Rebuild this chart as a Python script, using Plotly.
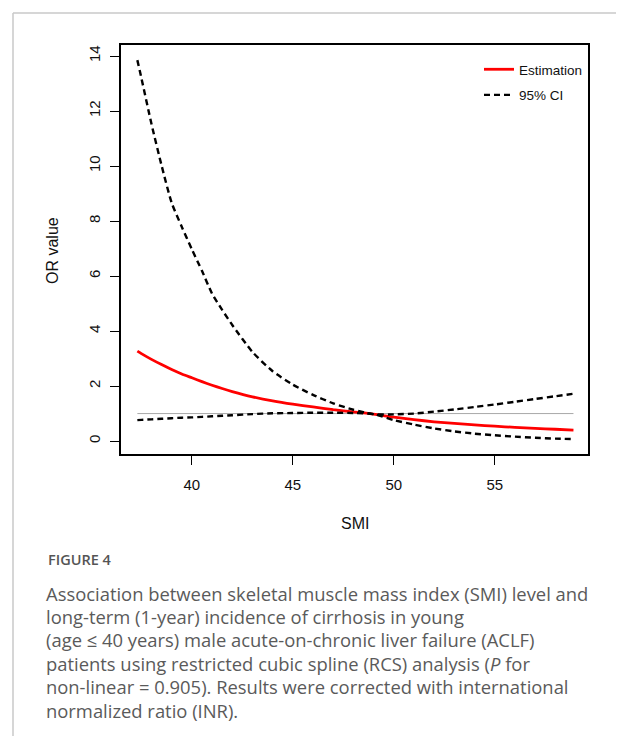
import plotly.graph_objects as go

# ---- data ----
smi = [37.3, 37.5, 38, 38.5, 39, 39.5, 40, 40.5, 41, 41.5, 42, 43, 44, 45, 46, 47, 48, 49,
       50, 51, 52, 53, 54, 55, 56, 57, 58, 58.9]
estimate = [3.27, 3.18, 2.97, 2.78, 2.60, 2.44, 2.30, 2.16, 2.03, 1.91, 1.80, 1.61, 1.46, 1.34,
            1.24, 1.14, 1.06, 0.98, 0.87, 0.78, 0.70, 0.64, 0.59, 0.54, 0.50, 0.46, 0.43, 0.40]
ci_upper = [13.85, 13.2, 11.53, 10.02, 8.66, 7.79, 6.97, 6.19, 5.36, 4.77, 4.22, 3.24, 2.54, 2.05,
            1.68, 1.37, 1.14, 0.98, 0.97, 1.0, 1.07, 1.15, 1.24, 1.33, 1.43, 1.53, 1.63, 1.72]
ci_lower = [0.76, 0.77, 0.79, 0.81, 0.83, 0.85, 0.86, 0.88, 0.90, 0.92, 0.94, 0.98, 1.01, 1.02,
            1.03, 1.03, 1.02, 0.98, 0.76, 0.60, 0.46, 0.35, 0.27, 0.21, 0.16, 0.12, 0.09, 0.07]
ref_value = 1
x_ticks = [40, 45, 50, 55]
y_ticks = [0, 2, 4, 6, 8, 10, 12, 14]

caption_title = "FIGURE 4"
caption_lines = [
    "Association between skeletal muscle mass index (SMI) level and",
    "long-term (1-year) incidence of cirrhosis in young",
    "(age \u2264 40 years) male acute-on-chronic liver failure (ACLF)",
    "patients using restricted cubic spline (RCS) analysis (<i>P</i> for",
    "non-linear = 0.905). Results were corrected with international",
    "normalized ratio (INR).",
]

# ---- layout geometry (screen pixels; the page body adds an 8px offset) ----
OFF = 8
WIN_W, WIN_H = 624, 736
W, H = WIN_W - OFF, WIN_H - OFF
L, R, T, B = 121, 588, 45, 454


def px(s):
    return (s - L) / (R - L)


def py(s):
    return (B - s) / (B - T)


PLOT_FONT = "Liberation Sans, Arial, Helvetica, sans-serif"
CAP_FONT = "Open Sans, Noto Sans, sans-serif"

fig = go.Figure()

fig.add_trace(go.Scatter(
    x=[smi[0], smi[-1]], y=[ref_value, ref_value], mode="lines",
    line=dict(color="#a8a8a8", width=1), showlegend=False, hoverinfo="skip"))

fig.add_trace(go.Scatter(
    x=smi, y=estimate, mode="lines", name="Estimation", legendgroup="a",
    line=dict(color="#ff0000", width=2.8, shape="spline", smoothing=0.6)))

fig.add_trace(go.Scatter(
    x=smi, y=ci_upper, mode="lines", name="95% CI", legendgroup="b",
    line=dict(color="black", width=2.4, dash="6px,4px", shape="spline", smoothing=0.6)))

fig.add_trace(go.Scatter(
    x=smi, y=ci_lower, mode="lines", name="95% CI", legendgroup="b", showlegend=False,
    line=dict(color="black", width=2.4, dash="6px,4px", shape="spline", smoothing=0.6)))

axis_common = dict(
    showgrid=False, zeroline=False, showline=True, linecolor="black", linewidth=1.5,
    mirror=True, ticks="outside", ticklen=9, tickwidth=1.2, tickcolor="black",
    tickfont=dict(family=PLOT_FONT, size=15, color="#111"),
)

fig.update_xaxes(range=[36.49, 59.62], tickvals=x_ticks, ticklabelstandoff=7, **axis_common)
fig.update_yaxes(range=[-0.47, 14.4], tickvals=y_ticks, tickangle=-90, ticklabelstandoff=4, **axis_common)

annotations = [
    dict(text="SMI", x=px(355), y=py(523), xref="paper", yref="paper", showarrow=False,
         xanchor="center", yanchor="middle", font=dict(family=PLOT_FONT, size=16, color="#111")),
    dict(text="OR value", x=px(52), y=py(251), xref="paper", yref="paper", showarrow=False,
         textangle=-90, xanchor="center", yanchor="middle",
         font=dict(family=PLOT_FONT, size=16, color="#111")),
    dict(text=caption_title, x=px(46), y=py(559), xref="paper", yref="paper", showarrow=False,
         xanchor="left", yanchor="middle",
         font=dict(family=CAP_FONT, size=14.5, color="#555", weight=600)),
]
y0 = 593
for i, line in enumerate(caption_lines):
    annotations.append(dict(
        text=line, x=px(44), y=py(y0 + i * 23.4), xref="paper", yref="paper", showarrow=False,
        xanchor="left", yanchor="middle", font=dict(family=CAP_FONT, size=18.4, color="#5a5a5a")))

shapes = [
    dict(type="line", xref="paper", yref="paper", x0=px(13), y0=py(13), x1=px(WIN_W + 20), y1=py(13),
         line=dict(color="#c8c8c8", width=1.5)),
    dict(type="line", xref="paper", yref="paper", x0=px(13), y0=py(13), x1=px(13), y1=py(WIN_H + 20),
         line=dict(color="#c8c8c8", width=1.5)),
]

fig.update_layout(
    width=W, height=H,
    margin=dict(l=L - OFF, r=WIN_W - R, t=T - OFF, b=WIN_H - B, pad=0),
    paper_bgcolor="white", plot_bgcolor="white",
    showlegend=True,
    legend=dict(x=px(479), y=py(54), xanchor="left", yanchor="top",
                bgcolor="rgba(0,0,0,0)", borderwidth=0,
                font=dict(family=PLOT_FONT, size=13.5, color="#111"),
                traceorder="grouped", tracegroupgap=5, itemwidth=30),
    annotations=annotations,
    shapes=shapes,
)

fig.write_html("out.html")
